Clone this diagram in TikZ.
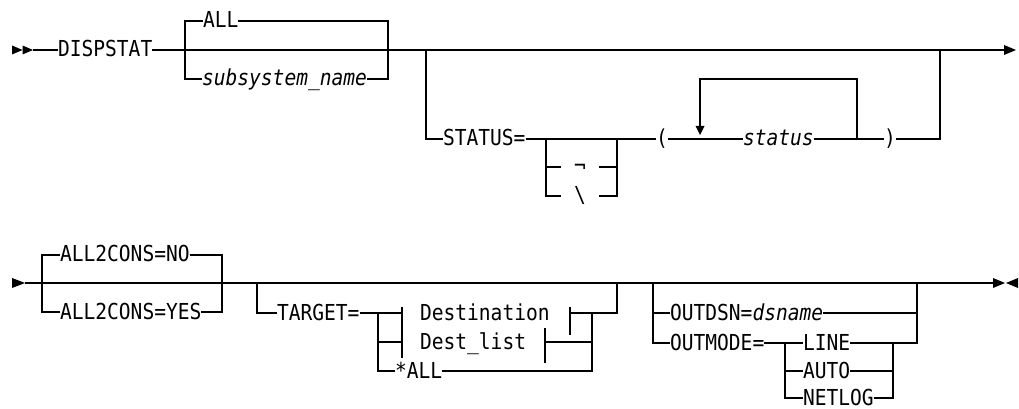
\documentclass[tikz,border=0pt]{standalone}
\usepackage{fontspec}
\newfontfamily\diafont{DejaVu Sans Mono}[FakeStretch=0.89, ItalicFont={DejaVu Sans Mono Oblique}]
\begin{document}
\begin{tikzpicture}[x=0.75pt,y=-0.75pt, line width=0.8pt,
  lbl/.style={font=\diafont\fontsize{16.5}{19}\selectfont, inner sep=0pt, outer sep=0pt,
              text height=10.5pt, text depth=0pt, anchor=west},
  it/.style={lbl, font=\diafont\itshape\fontsize{16.5}{19}\selectfont},
  gapnode/.style={lbl, anchor=center, minimum width=28.5pt}]
\useasboundingbox (0,0) rectangle (1019,409);
% ---------- row 1 ----------
\fill (12,45.5) -- (22.5,50) -- (12,54.5) -- cycle;
\fill (22.5,45.5) -- (33,50) -- (22.5,54.5) -- cycle;
\coordinate (s1) at (33,50);
\node[lbl] (disp) at (58,50) {DISPSTAT};
\coordinate (a1) at (185,50); \coordinate (a2) at (388,50);
\node[lbl] (all) at (203,21) {ALL};
\node[it] (ssn) at (202,79) {subsystem\_name};
\coordinate (b1) at (426,50); \coordinate (b2) at (940,50);
\coordinate (e1) at (1004,50);
\draw (s1) -- (disp.west);
\draw (disp.east) -- (a1) -- (a2) -- (b1) -- (b2) -- (e1);
\draw (a1) |- (all.west); \draw (all.east) -| (a2);
\draw (a1) |- (ssn.west); \draw (ssn.east) -| (a2);
\fill (1004,45) -- (1016,50) -- (1004,55) -- cycle;
% STATUS branch
\node[lbl] (stat) at (443,139) {STATUS=};
\draw (b1) |- (stat.west);
\coordinate (c1) at (546,139); \coordinate (c2) at (617,139);
\node[gapnode] (neg) at (580,167) {¬};
\node[gapnode] (bsl) at (580,196) {\textbackslash};
\draw (stat.east) -- (c1) -- (c2);
\draw (c1) |- (neg.west); \draw (neg.east) -| (c2);
\draw (c1) |- (bsl.west); \draw (bsl.east) -| (c2);
\node[lbl] (lp) at (656,139) {(};
\draw (c2) -- (lp.west);
\coordinate (d1) at (700,139); \coordinate (d2) at (857,139);
\node[it] (stv) at (743,139) {status};
\node[lbl] (rp) at (884,139) {)};
\coordinate (f1) at (940,139);
\draw (lp.east) -- (d1) -- (stv.west);
\draw (stv.east) -- (d2) -- (rp.west);
\draw (rp.east) -- (f1) -- (b2);
\coordinate (d2t) at (857,79); \coordinate (d1t) at (700,79); \coordinate (d1a) at (700,127);
\draw (d2) -- (d2t) -- (d1t) -- (d1a);
\fill (695.5,126) -- (704.5,126) -- (700,135) -- cycle;
% ---------- row 2 ----------
\fill (12,278) -- (25,283) -- (12,288) -- cycle;
\coordinate (s2) at (25,283);
\coordinate (g1) at (42,283); \coordinate (g2) at (222,283);
\node[lbl] (no) at (60,255) {ALL2CONS=NO};
\node[lbl] (yes) at (60,312) {ALL2CONS=YES};
\coordinate (h1) at (257,283); \coordinate (h2) at (617,283);
\coordinate (k1) at (653,283); \coordinate (k2) at (917,283);
\coordinate (e2) at (993,283);
\draw (s2) -- (g1) -- (g2) -- (h1) -- (h2) -- (k1) -- (k2) -- (e2);
\draw (g1) |- (no.west); \draw (no.east) -| (g2);
\draw (g1) |- (yes.west); \draw (yes.east) -| (g2);
% TARGET branch
\node[lbl] (tgt) at (277,313) {TARGET=};
\draw (h1) |- (tgt.west);
\coordinate (t1) at (378,313); \coordinate (t2) at (592,313); \coordinate (t3) at (617,313);
\coordinate (fb1) at (402,313); \coordinate (fb2) at (402,342);
\node[lbl] (dest) at (420,313) {Destination};
\node[lbl] (dl) at (420,342) {Dest\_list};
\node[lbl] (sall) at (395,371) {*ALL};
\coordinate (rb1) at (570,313); \coordinate (rb2) at (545,342);
\draw (tgt.east) -- (t1) -- (fb1);
\draw (t1) |- (fb2);
\draw (t1) |- (sall.west);
\draw (fb1) ++(0,-6) -- ++(0,51);
\draw (rb1) ++(0,-6) -- ++(0,28);
\draw (rb2) ++(0,-14) -- ++(0,35);
\draw (rb1) -- (t2) -- (t3) -- (h2);
\draw (rb2) -| (t2);
\draw (sall.east) -| (t2);
% OUTDSN / OUTMODE branch
\node[lbl] (odsn) at (670,313) {OUTDSN=\textit{dsname}};
\draw (k1) |- (odsn.west); \draw (odsn.east) -| (k2);
\node[lbl] (omode) at (670,343) {OUTMODE=};
\draw (k1) |- (omode.west);
\coordinate (m1) at (785,343); \coordinate (m2) at (893,343); \coordinate (m3) at (917,343);
\node[lbl] (nline) at (803,343) {LINE};
\node[lbl] (nauto) at (803,371) {AUTO};
\node[lbl] (nnet) at (803,398) {NETLOG};
\draw (omode.east) -- (m1) -- (nline.west);
\draw (m1) |- (nauto.west); \draw (m1) |- (nnet.west);
\draw (nline.east) -- (m2) -- (m3) -- (k2);
\draw (nauto.east) -| (m2); \draw (nnet.east) -| (m2);
\fill (993,278) -- (1005,283) -- (993,288) -- cycle;
\fill (1018,278) -- (1006,283) -- (1018,288) -- cycle;
\end{tikzpicture}
\end{document}
